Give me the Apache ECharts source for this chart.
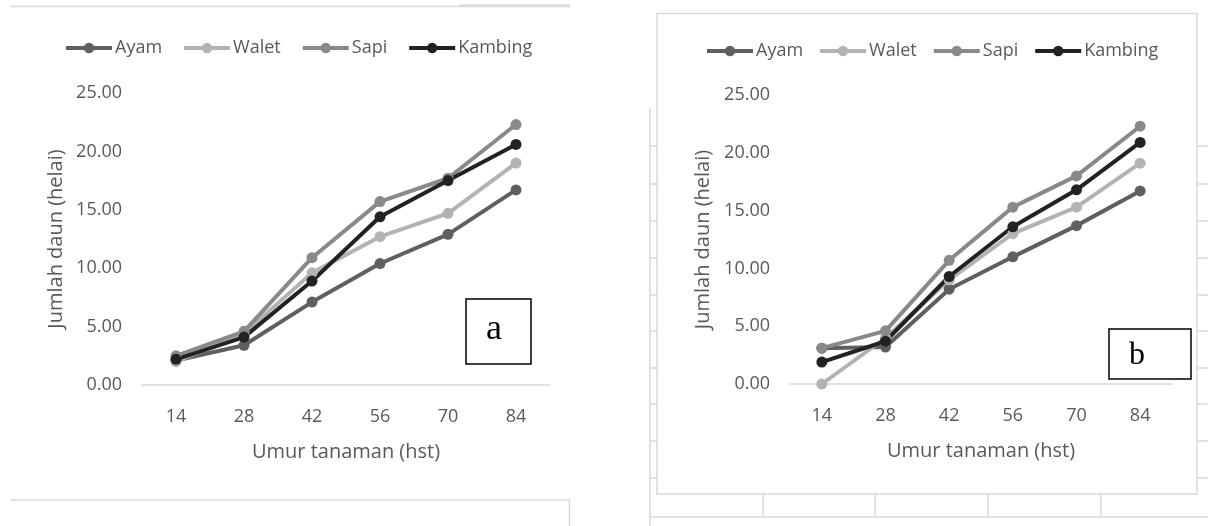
<!DOCTYPE html>
<html>
<head>
<meta charset="utf-8">
<script src="https://cdn.jsdelivr.net/npm/echarts@6/dist/echarts.min.js"></script>
<style>
  html, body { margin: 0; padding: 0; background: #ffffff; }
  #chart { width: 1208px; height: 526px; }
</style>
</head>
<body>
<div id="chart"></div>
<script>
// ---- Data ----
const categories = ['14', '28', '42', '56', '70', '84'];
const seriesNames = ['Ayam', 'Walet', 'Sapi', 'Kambing'];
const yTicks = [0, 5, 10, 15, 20, 25];

// Panel a
const ayamA    = [2.1, 3.4, 7.1, 10.4, 12.9, 16.7];
const waletA   = [2.0, 4.4, 9.6, 12.7, 14.7, 19.0];
const sapiA    = [2.5, 4.6, 10.9, 15.7, 17.7, 22.3];
const kambingA = [2.2, 4.1, 8.9, 14.4, 17.5, 20.6];

// Panel b
const ayamB    = [3.1, 3.2, 8.2, 11.0, 13.7, 16.7];
const waletB   = [0.0, 4.0, 9.0, 13.0, 15.3, 19.1];
const sapiB    = [3.1, 4.6, 10.7, 15.3, 18.0, 22.3];
const kambingB = [1.9, 3.7, 9.3, 13.6, 16.8, 20.9];

const panelLabels = ['a', 'b'];
const xTitle = 'Umur tanaman (hst)';
const yTitle = 'Jumlah daun (helai)';

// ---- Styles ----
const colors = ['#5f5f5f', '#b3b3b3', '#898989', '#222222'];
const FONT = 'Open Sans';
const TXT = '#595959';
const AXIS = '#d9d9d9';

const chart = echarts.init(document.getElementById('chart'), null, { renderer: 'canvas' });

const grids = [
  { left: 142, top: 93, width: 408, height: 292 },
  { left: 790, top: 95, width: 382, height: 289 }
];

function xAxisFor(i) {
  return {
    type: 'category', gridIndex: i, data: categories, boundaryGap: true,
    axisLine: { show: true, lineStyle: { color: AXIS, width: 1.5 } },
    axisTick: { show: false },
    axisLabel: { color: TXT, fontFamily: FONT, fontSize: 18, margin: 23 },
    name: xTitle, nameLocation: 'middle', nameGap: 57,
    nameTextStyle: { color: TXT, fontFamily: FONT, fontSize: 20 }
  };
}
function yAxisFor(i, gap) {
  return {
    type: 'value', gridIndex: i, min: yTicks[0], max: yTicks[yTicks.length - 1], interval: 5,
    axisLine: { show: false }, axisTick: { show: false }, splitLine: { show: false },
    axisLabel: { color: TXT, fontFamily: FONT, fontSize: 18, margin: 20,
      formatter: v => v.toFixed(2) },
    name: yTitle, nameLocation: 'middle', nameGap: gap, nameRotate: 90,
    nameTextStyle: { color: TXT, fontFamily: FONT, fontSize: 20 }
  };
}

const dataA = [ayamA, waletA, sapiA, kambingA];
const dataB = [ayamB, waletB, sapiB, kambingB];
const series = [];
[dataA, dataB].forEach((set, gi) => {
  set.forEach((vals, si) => {
    series.push({
      name: seriesNames[si], type: 'line', xAxisIndex: gi, yAxisIndex: gi,
      data: vals, symbol: 'circle', symbolSize: 11,
      lineStyle: { color: colors[si], width: 4 },
      itemStyle: { color: colors[si] },
      emphasis: { disabled: true }, animation: false
    });
  });
});

function legendFor(left, top, gap) {
  return {
    left: left, top: top, orient: 'horizontal',
    itemWidth: 46, itemHeight: 13, itemGap: gap,
    lineStyle: { width: 4 },
    textStyle: { color: TXT, fontFamily: FONT, fontSize: 18, padding: [0, 0, 0, -2] },
    data: seriesNames, selectedMode: false
  };
}

// decorative background frames
const lc = '#d9d9d9';
const gfx = [];
function line(x1, y1, x2, y2, w) {
  gfx.push({ type: 'line', silent: true, z: -10,
    shape: { x1: x1, y1: y1, x2: x2, y2: y2 },
    style: { stroke: lc, lineWidth: w || 1.5 } });
}
// panel a borders
line(11, 6.5, 570, 6.5);
line(459, 5, 570, 5);
line(11, 500, 570, 500);
line(569.5, 500, 569.5, 526);
// panel b frame
gfx.push({ type: 'rect', silent: true, z: -10,
  shape: { x: 657, y: 13.5, width: 540, height: 480.5 },
  style: { fill: 'none', stroke: lc, lineWidth: 1.5 } });
line(650, 108, 650, 526);
line(650, 517, 1208, 517);
[763, 875, 988, 1101].forEach(x => line(x, 494, x, 517));
[146, 184, 221, 258, 295, 331, 368, 404, 441, 478].forEach(y => {
  line(650, y, 657, y);
  line(1197, y, 1208, y);
});
// panel label boxes
gfx.push({ type: 'rect', z: 50, shape: { x: 466, y: 299, width: 65, height: 65 },
  style: { fill: '#fff', stroke: '#000', lineWidth: 1.5 } });
gfx.push({ type: 'text', z: 51, x: 494, y: 330,
  style: { text: panelLabels[0], font: '36px "Liberation Serif"', fill: '#000',
    textAlign: 'center', textVerticalAlign: 'middle' } });
gfx.push({ type: 'rect', z: 50, shape: { x: 1109, y: 329, width: 82, height: 50 },
  style: { fill: '#fff', stroke: '#000', lineWidth: 1.5 } });
gfx.push({ type: 'text', z: 51, x: 1137, y: 356,
  style: { text: panelLabels[1], font: '32px "Liberation Serif"', fill: '#000',
    textAlign: 'center', textVerticalAlign: 'middle' } });

chart.setOption({
  animation: false,
  backgroundColor: '#ffffff',
  grid: grids,
  xAxis: [xAxisFor(0), xAxisFor(1)],
  yAxis: [yAxisFor(0, 76), yAxisFor(1, 77)],
  legend: [legendFor(59, 34, 20), legendFor(700, 37, 15)],
  series: series,
  graphic: gfx
});
</script>
</body>
</html>
